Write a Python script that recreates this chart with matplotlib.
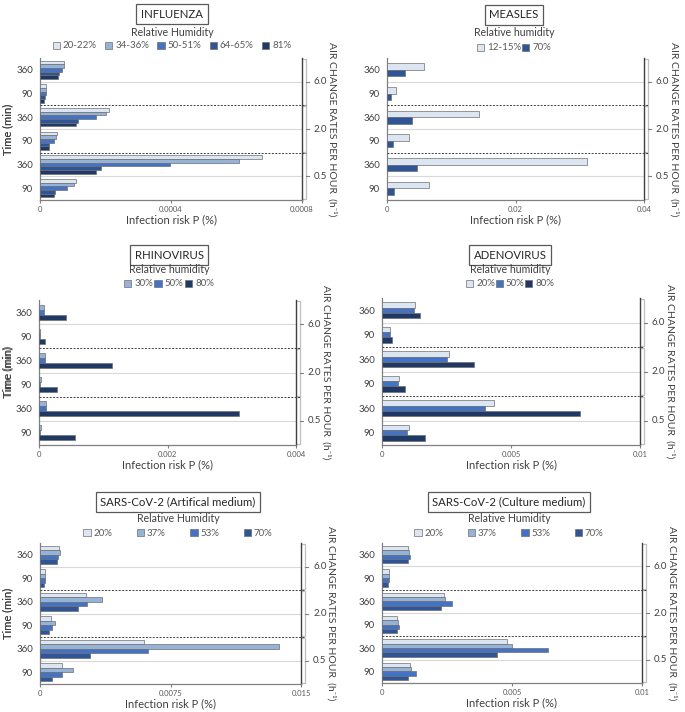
import numpy as np
import matplotlib.pyplot as plt
from matplotlib import transforms

plt.rcParams['font.family'] = ['Lato', 'DejaVu Sans']

W, H = 685, 712

# rows top to bottom: 360 / 90 min at 6.0, 2.0 and 0.5 air changes per hour
time_labels = ["360", "90", "360", "90", "360", "90"]
ach_labels = ["6.0", "2.0", "0.5"]

flu_rh = ["20-22%", "34-36%", "50-51%", "64-65%", "81%"]
flu_risk = [
    [0.0000735, 0.0000184, 0.000211, 0.000052, 0.000677, 0.000109],
    [0.0000724, 0.0000173, 0.000202, 0.000049, 0.000609, 0.000104],
    [0.0000684, 0.0000173, 0.000171, 0.0000429, 0.000397, 0.0000827],
    [0.0000592, 0.0000143, 0.000116, 0.0000286, 0.000187, 0.0000459],
    [0.0000561, 0.0000133, 0.000109, 0.0000276, 0.000170, 0.0000418],
]
flu_ticks = [0, 0.0004, 0.0008]
flu_ticklabels = ["0", "0.0004", "0.0008"]

measles_rh = ["12-15%", "70%"]
measles_risk = [
    [0.0058, 0.00145, 0.01435, 0.00347, 0.0311, 0.00658],
    [0.00285, 0.00067, 0.00394, 0.00098, 0.00471, 0.00114],
]
measles_ticks = [0, 0.02, 0.04]
measles_ticklabels = ["0", "0.02", "0.04"]

rhino_rh = ["30%", "50%", "80%"]
rhino_risk = [
    [0.000083, 0.00002, 0.000093, 0.000026, 0.000104, 0.000026],
    [0.000078, 0.0000155, 0.000088, 0.00002, 0.000104, 0.00002],
    [0.00042, 0.000098, 0.00113, 0.00028, 0.00311, 0.00056],
]
rhino_ticks = [0, 0.002, 0.004]
rhino_ticklabels = ["0", "0.002", "0.004"]

adeno_rh = ["20%", "50%", "80%"]
adeno_risk = [
    [0.00127, 0.00032, 0.00261, 0.00066, 0.00435, 0.00105],
    [0.00123, 0.00032, 0.0025, 0.00063, 0.00401, 0.00098],
    [0.00146, 0.000375, 0.00356, 0.00089, 0.00767, 0.00167],
]
adeno_ticks = [0, 0.005, 0.01]
adeno_ticklabels = ["0", "0.005", "0.01"]

sars_rh = ["20%", "37%", "53%", "70%"]
sars_art_risk = [
    [0.00107, 0.00029, 0.00267, 0.00065, 0.0060, 0.00127],
    [0.00117, 0.00031, 0.00357, 0.00086, 0.01372, 0.0019],
    [0.00106, 0.00029, 0.00269, 0.00069, 0.00618, 0.00129],
    [0.0010, 0.00025, 0.00217, 0.00054, 0.0029, 0.00071],
]
sars_art_ticks = [0, 0.0075, 0.015]
sars_art_ticklabels = ["0", "0.0075", "0.015"]

sars_cul_risk = [
    [0.0010, 0.000256, 0.00237, 0.00058, 0.00481, 0.00108],
    [0.00103, 0.000256, 0.00242, 0.00062, 0.00501, 0.00112],
    [0.00108, 0.00027, 0.0027, 0.00067, 0.00639, 0.0013],
    [0.0010, 0.000244, 0.00228, 0.00056, 0.00444, 0.0010],
]
sars_cul_ticks = [0, 0.005, 0.01]
sars_cul_ticklabels = ["0", "0.005", "0.01"]

C_PALE = '#dce6f2'
C_LIGHT = '#95b3d7'
C_MID = '#4472c4'
C_DARK = '#2f5597'
C_NAVY = '#1f3864'
TXT = '#404040'


def px_box(left, right, top, bottom):
    return [left / W, 1 - bottom / H, (right - left) / W, (bottom - top) / H]


def draw_panel(fig, rect, title, leg_title, rh, series, colors, ticks, ticklabels,
               band, colspace, title_y, legt_y, leg_y, tcx):
    left, right, top, bottom = rect
    wpx = right - left
    ax = fig.add_axes(px_box(*rect))
    n = len(series)
    h = band / n
    centers = np.arange(len(time_labels)) + 0.5
    for i in range(n):
        y = centers - band / 2 + h * (i + 0.5)
        ax.barh(y, series[i], height=h, color=colors[i], edgecolor='#6f6f6f',
                linewidth=0.5, label=rh[i], zorder=3)
    ax.set_ylim(6, 0)
    ax.set_xlim(ticks[0], ticks[-1])
    ax.set_yticks(centers)
    ax.set_yticklabels(time_labels)
    ax.set_xticks(ticks)
    ax.set_xticklabels(ticklabels)
    ax.tick_params(axis='y', length=0, labelsize=7, labelcolor=TXT, pad=5)
    ax.tick_params(axis='x', length=2.5, color='#808080', labelsize=5.5,
                   labelcolor='#595959', pad=1.5)
    ax.spines['top'].set_visible(False)
    for s in ('left', 'bottom'):
        ax.spines[s].set_color('#808080')
        ax.spines[s].set_linewidth(0.9)
    ax.spines['right'].set_color('#404040')
    ax.spines['right'].set_linewidth(1.0)

    # light lines between 360/90, dashed lines between air change groups
    tr = transforms.blended_transform_factory(ax.transAxes, ax.transData)
    xb = 1 + 4 / wpx
    for yl in (1, 3, 5):
        ax.plot([0, 1], [yl, yl], color='#d9d9d9', lw=0.8, transform=tr, zorder=1)
    for yl in (2, 4):
        ax.plot([0, xb], [yl, yl], color='#404040', lw=0.7, ls=(0, (2, 1.5)),
                transform=tr, clip_on=False, zorder=4)
    # secondary axis with air change rate groups
    for g in range(3):
        y0, y1 = 2 * g + 0.03, 2 * g + 1.97
        ax.plot([xb - 3 / wpx, xb, xb, xb - 3 / wpx], [y0, y0, y1, y1],
                color='#bfbfbf', lw=0.9, transform=tr, clip_on=False)
        ax.plot([xb, xb + 3 / wpx], [2 * g + 1, 2 * g + 1], color='#808080',
                lw=0.8, transform=tr, clip_on=False)
        ax.text(xb + 8 / wpx, 2 * g + 1, ach_labels[g], transform=tr,
                va='center', ha='left', fontsize=7, color=TXT)
    ax.text(1 + 30 / wpx, 0.5, "AIR CHANGE RATES PER HOUR  (h⁻¹)", rotation=270,
            transform=ax.transAxes, va='center', ha='center', fontsize=7.5,
            color=TXT)
    ax.annotate("Time (min)", xy=(0, 0.5), xycoords='axes fraction',
                xytext=(-left + 8, 0), textcoords='offset pixels', rotation=90,
                va='center', ha='center', fontsize=8, color=TXT)
    ax.annotate("Infection risk P (%)", xy=(0.5, 0), xycoords='axes fraction',
                xytext=(0, -20), textcoords='offset pixels', va='center',
                ha='center', fontsize=8, color=TXT)

    fig.text(tcx / W, 1 - title_y / H, title, ha='center', va='center',
             fontsize=8.2, color='#262626',
             bbox=dict(boxstyle='square,pad=0.4', fc='white', ec='#595959', lw=0.9))
    fig.text(tcx / W, 1 - legt_y / H, leg_title, ha='center', va='center',
             fontsize=7.6, color=TXT)
    ax.legend(loc='center', bbox_to_anchor=(tcx / W, 1 - leg_y / H),
              bbox_transform=fig.transFigure, ncol=n, frameon=False,
              fontsize=7, labelcolor='#595959', handlelength=0.75,
              handleheight=0.75, handletextpad=0.3, columnspacing=colspace,
              borderpad=0, borderaxespad=0)
    return ax


fig = plt.figure(figsize=(W / 100, H / 100), dpi=100)

draw_panel(fig, (40, 302, 58, 200), "INFLUENZA", "Relative Humidity", flu_rh,
           flu_risk, [C_PALE, C_LIGHT, C_MID, C_DARK, C_NAVY], flu_ticks,
           flu_ticklabels, 0.78, 0.85, 14, 33, 46, 172)
draw_panel(fig, (387, 644, 58, 200), "MEASLES", "Relative humidity", measles_rh,
           measles_risk, [C_PALE, C_DARK], measles_ticks, measles_ticklabels,
           0.56, 0.1, 15, 33, 48, 514)
draw_panel(fig, (39, 296, 300, 445), "RHINOVIRUS", "Relative humidity", rhino_rh,
           rhino_risk, [C_LIGHT, C_MID, C_NAVY], rhino_ticks, rhino_ticklabels,
           0.62, 0.15, 255, 269, 284, 169)
draw_panel(fig, (382, 640, 298, 445), "ADENOVIRUS", "Relative humidity", adeno_rh,
           adeno_risk, [C_PALE, C_MID, C_NAVY], adeno_ticks, adeno_ticklabels,
           0.64, 0.05, 255, 269, 284, 510)
draw_panel(fig, (40, 301, 543, 684), "SARS-CoV-2 (Artifical medium)", "Relative Humidity",
           sars_rh, sars_art_risk, [C_PALE, C_LIGHT, C_MID, C_DARK], sars_art_ticks,
           sars_art_ticklabels, 0.75, 2.5, 502, 519, 533, 178)
draw_panel(fig, (382, 642, 543, 683), "SARS-CoV-2 (Culture medium)", "Relative Humidity",
           sars_rh, sars_cul_risk, [C_PALE, C_LIGHT, C_MID, C_DARK], sars_cul_ticks,
           sars_cul_ticklabels, 0.75, 2.5, 502, 519, 533, 509)

fig.savefig("out.png", dpi=100)
